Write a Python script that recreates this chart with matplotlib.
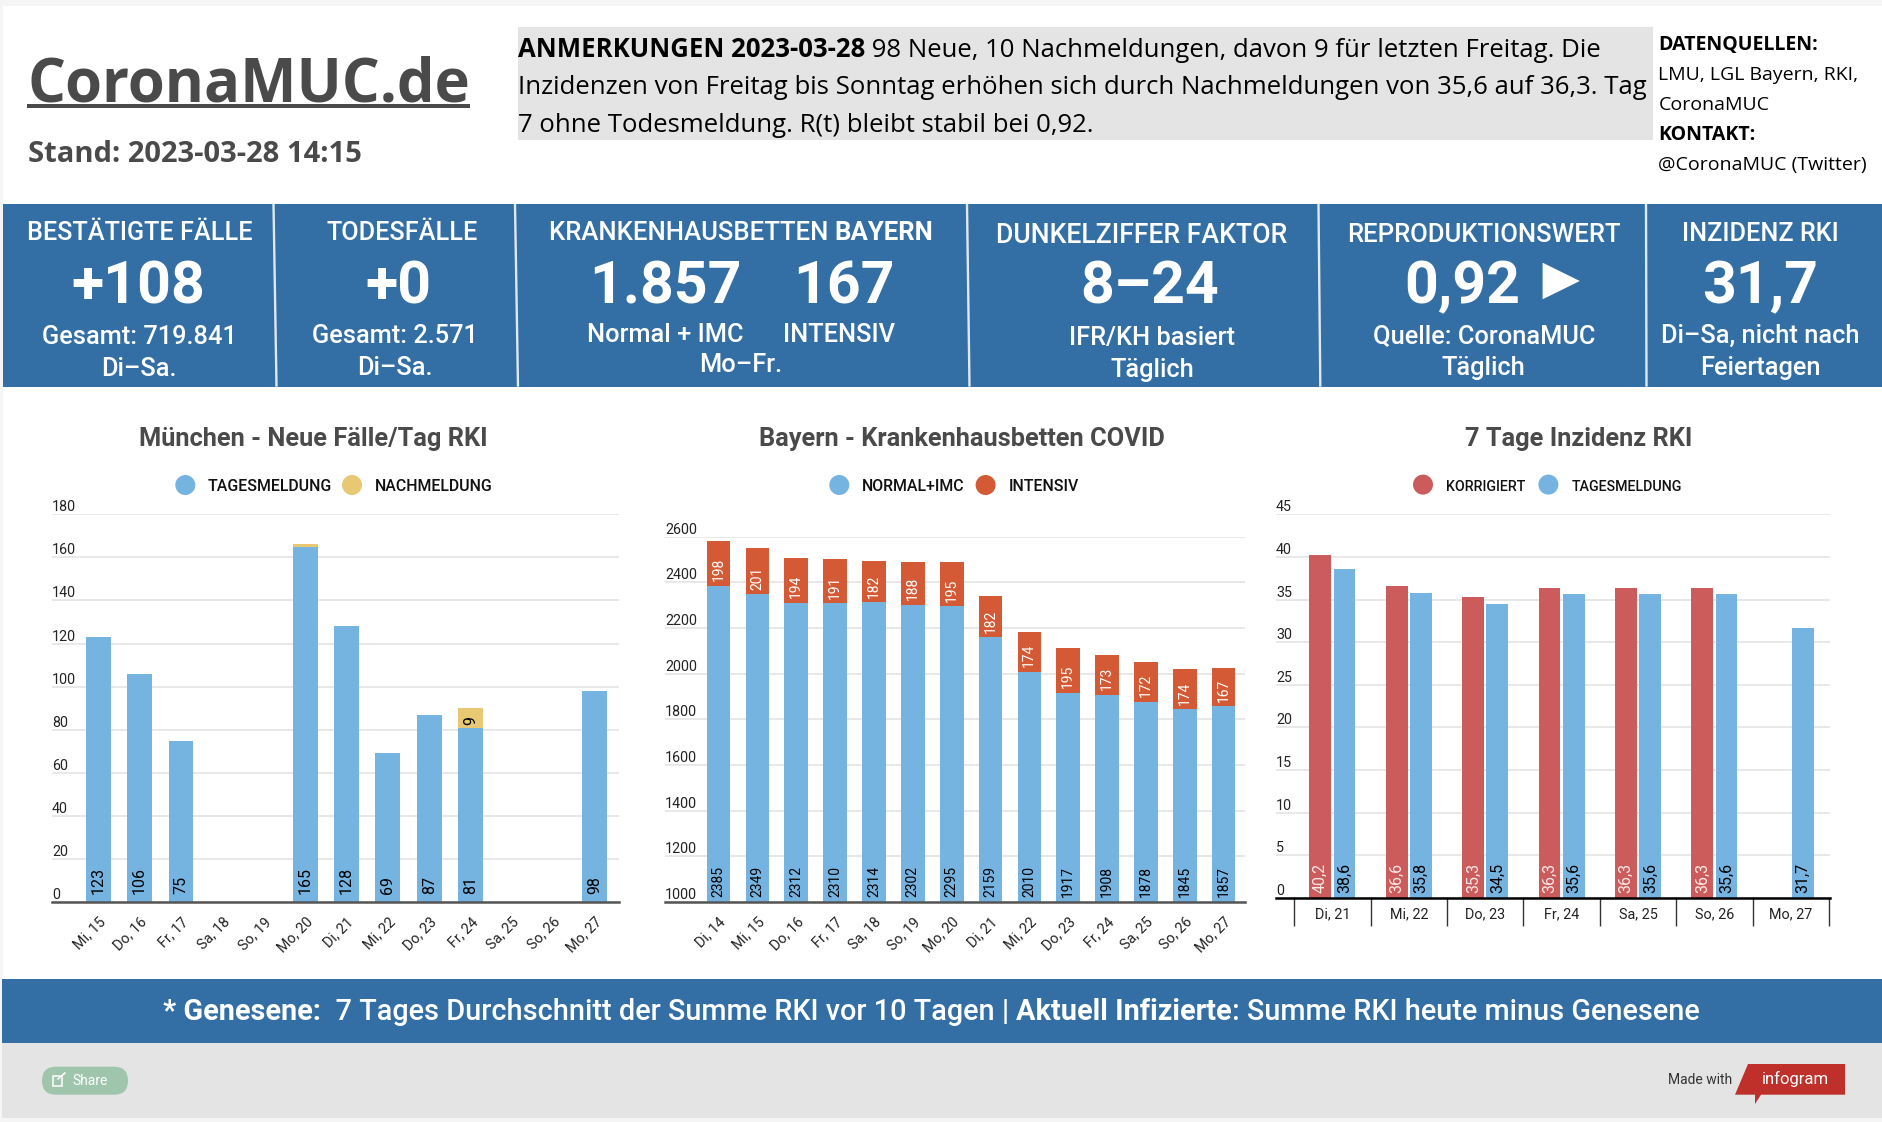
# -*- coding: utf-8 -*-
import numpy as np
import matplotlib
matplotlib.use('Agg')
import matplotlib.pyplot as plt
from matplotlib.patches import Rectangle, Polygon, Circle, FancyBboxPatch

W, H = 1882, 1122

# Muenchen
days1 = ['Mi, 15', 'Do, 16', 'Fr, 17', 'Sa, 18', 'So, 19', 'Mo, 20', 'Di, 21',
         'Mi, 22', 'Do, 23', 'Fr, 24', 'Sa, 25', 'So, 26', 'Mo, 27']
tagesmeldung = [123, 106, 75, 0, 0, 165, 128, 69, 87, 81, 0, 0, 98]
nachmeldung = [0, 0, 0, 0, 0, 1, 0, 0, 0, 9, 0, 0, 0]

# Bayern
days2 = ['Di, 14', 'Mi, 15', 'Do, 16', 'Fr, 17', 'Sa, 18', 'So, 19', 'Mo, 20',
         'Di, 21', 'Mi, 22', 'Do, 23', 'Fr, 24', 'Sa, 25', 'So, 26', 'Mo, 27']
normal = [2385, 2349, 2312, 2310, 2314, 2302, 2295, 2159, 2010, 1917, 1908, 1878, 1845, 1857]
intensiv = [198, 201, 194, 191, 182, 188, 195, 182, 174, 195, 173, 172, 174, 167]

# Inzidenz
days3 = ['Di, 21', 'Mi, 22', 'Do, 23', 'Fr, 24', 'Sa, 25', 'So, 26', 'Mo, 27']
korrigiert = [40.2, 36.6, 35.3, 36.3, 36.3, 36.3, None]
tages_inz = [38.6, 35.8, 34.5, 35.6, 35.6, 35.6, 31.7]

BLUE = '#75b4e1'
YELLOW = '#e8c873'
ORANGE = '#d45a35'
RED = '#cc5c5b'
BAND = '#336fa4'
GREY = '#e4e4e4'
DARK = '#4a4a4a'
OS = 'Open Sans'
RB = 'Roboto'

fig = plt.figure(figsize=(W / 100, H / 100), dpi=100, facecolor='#f5f5f5')
bg = fig.add_axes([0, 0, 1, 1])
bg.set_xlim(0, W)
bg.set_ylim(H, 0)
bg.axis('off')


def box(x0, y0, x1, y1, color):
    bg.add_patch(Rectangle((x0, y0), x1 - x0, y1 - y0, color=color, lw=0))


def txt(x, y, s, size, color='white', family=RB, weight='normal', ha='center'):
    return bg.text(x, y, s, fontsize=size, color=color, family=family, weight=weight,
                   ha=ha, va='baseline')


def mixed(x, y, parts, size, color='white', family=RB):
    # several weights on one line, next piece starts where the last one ended
    r = fig.canvas.get_renderer()
    for s, weight in parts:
        t = bg.text(x, y, s, fontsize=size, color=color, family=family, weight=weight,
                    ha='left', va='baseline')
        w, _, _ = r.get_text_width_height_descent(s, t.get_fontproperties(), False)
        x += w


box(3, 6, W, 979, 'white')
box(518, 27, 1653, 139.7, GREY)
box(3, 204, W, 386.7, BAND)
box(2.5, 979, W, 1042.7, BAND)
box(2.5, 1042.7, W, 1117.7, GREY)

# header
txt(28, 101.7, 'CoronaMUC.de', 43, DARK, OS, 'bold', 'left')
box(27, 104.2, 470, 107.7, DARK)
txt(28, 161.5, 'Stand: 2023-03-28 14:15', 21, DARK, OS, 'bold', 'left')

NOTE = 18.5
mixed(518, 56.5, [('ANMERKUNGEN 2023-03-28', 'bold'),
                  (' 98 Neue, 10 Nachmeldungen, davon 9 für letzten Freitag. Die', 'normal')],
      NOTE, 'black', OS)
txt(518, 94, 'Inzidenzen von Freitag bis Sonntag erhöhen sich durch Nachmeldungen von 35,6 auf 36,3. Tag',
    NOTE, 'black', OS, 'normal', 'left')
txt(518, 131.7, '7 ohne Todesmeldung. R(t) bleibt stabil bei 0,92.', NOTE, 'black', OS, 'normal', 'left')

txt(1658.5, 50, 'DATENQUELLEN:', 14, 'black', OS, 'bold', 'left')
txt(1658.5, 80, 'LMU, LGL Bayern, RKI,', 14, 'black', OS, 'normal', 'left')
txt(1658.5, 110, 'CoronaMUC', 14, 'black', OS, 'normal', 'left')
txt(1658.5, 140, 'KONTAKT:', 14, 'black', OS, 'bold', 'left')
txt(1658.5, 170, '@CoronaMUC (Twitter)', 14, 'black', OS, 'normal', 'left')

# dividers in the blue band
for x0, x1 in [(273.5, 276.5), (515, 518), (967, 969.5), (1318.5, 1320.3), (1646, 1646.5)]:
    bg.plot([x0, x1], [204, 386.7], color='#dfe9f2', lw=1.7, solid_capstyle='butt')

HEAD, BIG, SUB = 18.2, 42.5, 18.3
MED = 'medium'
txt(139.5, 240, 'BESTÄTIGTE FÄLLE', HEAD, weight=MED)
txt(138, 303, '+108', BIG, weight='bold')
txt(139, 344, 'Gesamt: 719.841', SUB, weight=MED)
txt(139, 376, 'Di–Sa.', SUB, weight=MED)

txt(401.7, 240, 'TODESFÄLLE', HEAD, weight=MED)
txt(398.7, 303, '+0', BIG, weight='bold')
txt(394.5, 342.7, 'Gesamt: 2.571', SUB, weight=MED)
txt(395, 375, 'Di–Sa.', SUB, weight=MED)

mixed(549, 240, [('KRANKENHAUSBETTEN ', MED), ('BAYERN', 'bold')], 18.5)
txt(665.5, 303, '1.857', BIG, weight='bold')
txt(843.5, 303, '167', BIG, weight='bold')
txt(665.5, 341.7, 'Normal + IMC', SUB, weight=MED)
txt(839, 341.7, 'INTENSIV', SUB, weight=MED)
txt(740.4, 371.7, 'Mo–Fr.', SUB, weight=MED)

txt(1141.9, 242.5, 'DUNKELZIFFER FAKTOR', 19.2, weight=MED)
txt(1150, 303, '8–24', BIG, weight='bold')
txt(1152, 345, 'IFR/KH basiert', SUB, weight=MED)
txt(1152, 376.7, 'Täglich', SUB, weight=MED)

txt(1483.7, 241.5, 'REPRODUKTIONSWERT', 18.5, weight=MED)
txt(1462.7, 303, '0,92', BIG, weight='bold')
bg.add_patch(Polygon([(1542.6, 262.7), (1579.8, 281), (1542.6, 299.3)], color='white', lw=0))
txt(1483.7, 342.7, 'Quelle: CoronaMUC', SUB, weight=MED)
txt(1483.7, 375, 'Täglich', SUB, weight=MED)

txt(1760.7, 241, 'INZIDENZ RKI', HEAD, weight=MED)
txt(1760, 303, '31,7', BIG, weight='bold')
txt(1760, 343, 'Di–Sa, nicht nach', SUB, weight=MED)
txt(1760, 375, 'Feiertagen', SUB, weight=MED)

# bottom band
mixed(163, 1019.5, [('* Genesene:', 'bold'),
                    ('  7 Tages Durchschnitt der Summe RKI vor 10 Tagen | ', MED),
                    ('Aktuell Infizierte', 'bold'),
                    (': Summe RKI heute minus Genesene', MED)], 20.77)

bg.add_patch(FancyBboxPatch((42, 1066.7), 86, 28, boxstyle='round,pad=0,rounding_size=14',
                            color='#9fc5ad', lw=0))
bg.add_patch(Rectangle((53, 1075.5), 9, 10, fill=False, ec='white', lw=1.1))
bg.plot([58, 65], [1079, 1073], color='white', lw=1.1)
txt(72, 1085, 'Share', 10, 'white', RB, 'normal', 'left')
txt(1668, 1084, 'Made with', 10, '#333333', RB, 'normal', 'left')
bg.add_patch(Polygon([(1748, 1064), (1845, 1064), (1845, 1094.7), (1761, 1094.7), (1755, 1104),
                      (1755, 1094.7), (1735, 1094.7)], color='#c0302a', lw=0))
txt(1795, 1084, 'infogram', 12, 'white', RB, 'normal')


def chart_axes(left, right, top, bottom):
    ax = fig.add_axes([left / W, 1 - bottom / H, (right - left) / W, (bottom - top) / H])
    ax.patch.set_alpha(0)
    for name in ['top', 'left', 'right']:
        ax.spines[name].set_visible(False)
    ax.set_axisbelow(True)
    ax.grid(axis='y', color='#e2e2e2', lw=1.1)
    ax.tick_params(axis='y', length=0, pad=0, labelsize=10.3, labelcolor='#222222')
    return ax


def style_yticks(ax, ticks):
    ax.set_yticks(ticks)
    for lab in ax.get_yticklabels():
        lab.set_ha('left')
        lab.set_va('bottom')
        lab.set_family(RB)


def legend(items, y=485, size=11.4):
    for cx, color, tx, label in items:
        bg.add_patch(Circle((cx, y), 10, color=color, lw=0))
        txt(tx, y + 6, label, size, '#111111', RB, 'medium', 'left')


def rotated_xticks(ax, labels):
    ax.set_xticks(range(len(labels)))
    ax.set_xticklabels(labels, rotation=45, ha='right', va='top', rotation_mode='anchor',
                       fontsize=10.4, family=RB, color='#222222')
    ax.tick_params(axis='x', length=0, pad=9)


def inside(ax, x, y, s, offset, color='black', size=11.5):
    ax.annotate(s, (x, y), xytext=(0, offset), textcoords='offset points', rotation=90,
                ha='center', va='bottom', fontsize=size, color=color, family=RB)


# Muenchen - Neue Faelle
txt(313, 445.7, 'München - Neue Fälle/Tag RKI', 18.25, DARK, RB, 'bold')
legend([(185.3, BLUE, 208, 'TAGESMELDUNG'), (352, YELLOW, 374.7, 'NACHMELDUNG')])
ax1 = chart_axes(52, 619, 514.3, 902.1)
x1 = np.arange(len(days1))
ax1.bar(x1, tagesmeldung, width=0.6, color=BLUE)
ax1.bar(x1, nachmeldung, width=0.6, bottom=tagesmeldung, color=YELLOW)
ax1.set_xlim(-1.12, 12.59)
ax1.set_ylim(0, 180)
style_yticks(ax1, np.arange(0, 181, 20))
rotated_xticks(ax1, days1)
ax1.spines['bottom'].set_color('#555555')
ax1.spines['bottom'].set_linewidth(1.8)
for i, v in enumerate(tagesmeldung):
    if v:
        inside(ax1, i, 0, str(v), 5.5)
inside(ax1, 9, 81 + 4.5, str(nachmeldung[9]), -5)

# Bayern - Krankenhausbetten
txt(962, 445.7, 'Bayern - Krankenhausbetten COVID', 18.25, DARK, RB, 'bold')
legend([(839.3, BLUE, 861.8, 'NORMAL+IMC'), (985.6, ORANGE, 1008.5, 'INTENSIV')])
ax2 = chart_axes(664.9, 1245.4, 536.8, 902.1)
x2 = np.arange(len(days2))
# bars start at the 1000 line
ax2.bar(x2, normal, width=0.61, color=BLUE)
ax2.bar(x2, intensiv, width=0.61, bottom=normal, color=ORANGE)
ax2.set_xlim(-1.38, 13.56)
ax2.set_ylim(1000, 2600)
style_yticks(ax2, np.arange(1000, 2601, 200))
rotated_xticks(ax2, days2)
ax2.spines['bottom'].set_color('#555555')
ax2.spines['bottom'].set_linewidth(1.8)
for i in x2:
    inside(ax2, i, 1000, str(normal[i]), 4, size=10)
    inside(ax2, i, normal[i], str(intensiv[i]), 3.2, 'white', 10)

# 7 Tage Inzidenz
txt(1579, 445.7, '7 Tage Inzidenz RKI', 18.25, DARK, RB, 'bold')
legend([(1423, RED, 1446, 'KORRIGIERT'), (1548.4, BLUE, 1571.4, 'TAGESMELDUNG')], 484.6, 10.3)
ax3 = chart_axes(1275.9, 1830, 514.3, 897.9)
x3 = np.arange(len(days3))
for i in x3:
    if korrigiert[i] is not None:
        ax3.bar(i - 0.158, korrigiert[i], width=0.285, color=RED)
        inside(ax3, i - 0.158, 0, f'{korrigiert[i]:.1f}'.replace('.', ','), 3.5, '#fde9e7', 11.5)
    ax3.bar(i + 0.158, tages_inz[i], width=0.285, color=BLUE)
    inside(ax3, i + 0.158, 0, f'{tages_inz[i]:.1f}'.replace('.', ','), 3.5, 'black', 11.5)
ax3.set_xlim(-0.74, 6.513)
ax3.set_ylim(0, 45)
style_yticks(ax3, np.arange(0, 46, 5))
ax3.set_xticks(x3)
ax3.set_xticklabels(days3, fontsize=10.4, family=RB, color='#222222')
ax3.set_xticks(np.arange(-0.5, 7, 1), minor=True)
ax3.tick_params(axis='x', which='major', length=0, pad=7)
ax3.tick_params(axis='x', which='minor', length=20, width=1, color='#333333')
ax3.spines['bottom'].set_color('black')
ax3.spines['bottom'].set_linewidth(1.8)

fig.savefig('out.png', dpi=100, facecolor=fig.get_facecolor())
